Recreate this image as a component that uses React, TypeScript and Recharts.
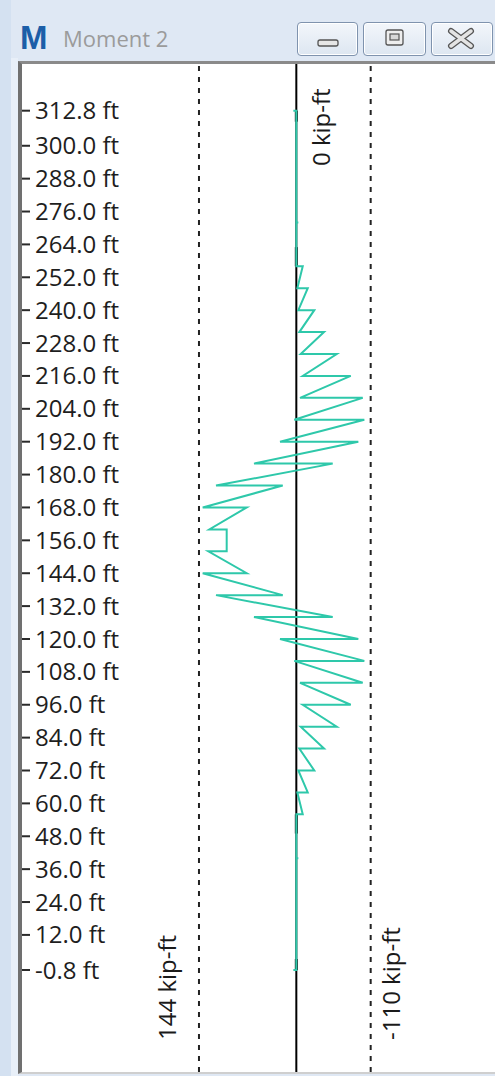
import React from 'react';
import { ScatterChart, Scatter, XAxis, YAxis, ReferenceLine } from 'recharts';

// Elevation tick values (ft)
const elevationTicks = [
  312.8, 300, 288, 276, 264, 252, 240, 228, 216, 204, 192, 180, 168, 156,
  144, 132, 120, 108, 96, 84, 72, 60, 48, 36, 24, 12, -0.8,
];

// Moment diagram path: elevation (ft) and moment (kip-ft), in drawing order
const pathElevations = [
  312.8, 312.8, 272, 272, 272,
  256, 256, 248, 248, 240, 240, 232, 232, 224, 224, 216, 216, 208, 208,
  200, 200, 192, 192, 184, 184, 176, 176, 168, 168, 160, 160,
  152, 152, 144, 144, 136, 136, 128, 128, 120, 120, 112, 112,
  104, 104, 96, 96, 88, 88, 80, 80, 72, 72, 64, 64, 56, 56,
  40, 40, 40, -0.8, -0.8,
];
const pathMoments = [
  4.4, 0, 0, -3, 0,
  0, -9.5, -1.5, -16.9, -3.0, -26.6, -4.4, -41.0, -6.5, -59.8, -9.5, -80.5, -5.5, -98.2,
  3.0, -100.6, 24.1, -91.7, 62.6, -53.8, 118.8, 20.1, 138.5, 73.4, 128.7, 103.0,
  103.0, 130.2, 73.4, 138.5, 20.1, 118.8, -53.8, 62.6, -91.7, 24.1, -100.6, 3.0,
  -98.2, -5.5, -80.5, -9.5, -59.8, -6.5, -41.0, -4.4, -26.6, -3.0, -16.9, -1.5, -9.5, 0,
  0, -3, 0, 0, 4.4,
];

// Envelope limits (kip-ft)
const envelopeMax = 144;
const envelopeMin = -110;

// Thick support marks along the zero line: [bottom elevation, top elevation]
const supportSegments = [
  [308.8, 312.8],
  [256, 263],
  [49, 56],
  [-0.8, 3.2],
];

const X_DOMAIN: [number, number] = [-293.9, 405.8];
const Y_DOMAIN: [number, number] = [-38.03, 329.84];

const FONT = "'Open Sans', 'Noto Sans', sans-serif";

const EmptyShape = () => <g />;

const makeLabel = (text: string, dx: number, fromBottom: number | null, fromTop: number | null) =>
  (props: any) => {
    const vb = props.viewBox || {};
    const x = (vb.x || 0) + dx;
    const y = fromTop != null ? (vb.y || 0) + fromTop : (vb.y || 0) + (vb.height || 0) - (fromBottom || 0);
    return (
      <text
        x={x}
        y={y}
        transform={`rotate(-90 ${x} ${y})`}
        fontSize={24}
        fontFamily={FONT}
        fill="#1a1a1a"
        textAnchor="start"
      >
        {text}
      </text>
    );
  };

export default function App() {
  const data = pathElevations.map((z, i) => ({ z, m: pathMoments[i] }));
  return (
    <div
      style={{
        position: 'fixed',
        left: 0,
        top: 0,
        width: 495,
        height: 1076,
        background: '#dfe8f4',
        overflow: 'hidden',
        fontFamily: FONT,
      }}
    >
      <div style={{ position: 'absolute', left: 0, top: 0, width: 11, height: 1076, background: '#d4e1f1' }} />
      <div style={{ position: 'absolute', left: 11, top: 58, width: 7, height: 1018, background: '#e8eff8' }} />
      {/* Title */}
      <div
        style={{
          position: 'absolute',
          left: 20,
          top: 19,
          fontFamily: "'Liberation Sans', Arial, sans-serif",
          fontWeight: 'bold',
          fontSize: 33,
          color: '#1c5ea8',
          lineHeight: '38px',
        }}
      >
        M
      </div>
      <div
        style={{
          position: 'absolute',
          left: 63,
          top: 22,
          fontSize: 22,
          color: '#9b9b9b',
          lineHeight: '32px',
        }}
      >
        Moment 2
      </div>
      {/* Window buttons */}
      {[
        { left: 297, width: 61 },
        { left: 363, width: 63 },
        { left: 431, width: 62 },
      ].map((b, i) => (
        <div
          key={i}
          style={{
            position: 'absolute',
            left: b.left,
            top: 22,
            width: b.width,
            height: 34,
            boxSizing: 'border-box',
            border: '1px solid #7f93ae',
            borderRadius: 4,
            background: 'linear-gradient(#f3f6fb, #dde6f1)',
            boxShadow: 'inset 0 0 0 1px #ffffff',
          }}
        />
      ))}
      <svg style={{ position: 'absolute', left: 0, top: 0 }} width={495} height={60}>
        <rect x={318} y={40} width={20} height={6} rx={2} fill="#e6e6e6" stroke="#555" strokeWidth={1.3} />
        <rect x={386} y={30} width={17} height={15} rx={2} fill="#eeeeee" stroke="#555" strokeWidth={1.3} />
        <rect x={390} y={34} width={9} height={6} fill="#d8d8d8" stroke="#555" strokeWidth={1.2} />
        <path d="M451 31 L471 46 M471 31 L451 46" stroke="#555" strokeWidth={6} strokeLinecap="round" />
        <path d="M451 31 L471 46 M471 31 L451 46" stroke="#e4e4e4" strokeWidth={3.5} strokeLinecap="round" />
      </svg>
      {/* Plot panel */}
      <div
        style={{
          position: 'absolute',
          left: 18,
          top: 61,
          width: 477,
          height: 1013,
          background: '#ffffff',
          boxSizing: 'border-box',
          borderLeft: '4px solid #707070',
          borderTop: '3px solid #8a8a8a',
          borderBottom: '2px solid #cfcfcf',
        }}
      />
      <div style={{ position: 'absolute', left: 0, top: 0 }}>
        <ScatterChart width={495} height={1076} margin={{ top: 64, right: 0, bottom: 4, left: 22 }}>
          <XAxis type="number" dataKey="m" domain={X_DOMAIN} reversed hide allowDataOverflow />
          <YAxis
            type="number"
            dataKey="z"
            domain={Y_DOMAIN}
            ticks={elevationTicks}
            interval={0}
            mirror
            allowDataOverflow
            axisLine={false}
            tickSize={8}
            tickMargin={5}
            tickLine={{ stroke: '#2a2a2a', strokeWidth: 2 }}
            tick={{ fontSize: 24, fill: '#1e1e1e', fontFamily: FONT }}
            tickFormatter={(v: number) => `${v.toFixed(1)} ft`}
          />
          <ReferenceLine
            x={envelopeMax}
            stroke="#222"
            strokeWidth={2}
            strokeDasharray="5 6"
            label={makeLabel(`${envelopeMax} kip-ft`, -23, 32, null)}
          />
          <ReferenceLine
            x={envelopeMin}
            stroke="#222"
            strokeWidth={2}
            strokeDasharray="5 6"
            label={makeLabel(`${envelopeMin} kip-ft`, 29, 32, null)}
          />
          <ReferenceLine
            x={0}
            stroke="#000"
            strokeWidth={2}
            label={makeLabel('0 kip-ft', 34, null, 102)}
          />
          <Scatter
            data={data}
            line={{ stroke: '#2ec8aa', strokeWidth: 2 }}
            lineType="joint"
            shape={EmptyShape}
            isAnimationActive={false}
          />
          {supportSegments.map((s, i) => (
            <ReferenceLine
              key={i}
              segment={[
                { x: 0, y: s[0] },
                { x: 0, y: s[1] },
              ]}
              stroke="#111"
              strokeWidth={3}
            />
          ))}
        </ScatterChart>
      </div>
    </div>
  );
}
